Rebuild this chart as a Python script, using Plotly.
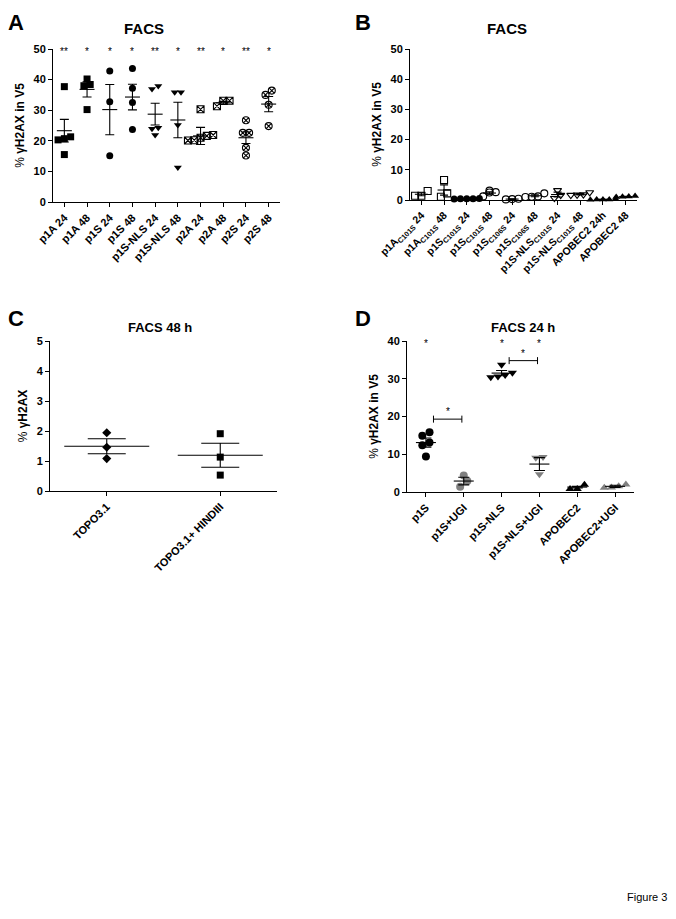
import plotly.graph_objects as go

# the page body has an 8px default margin: the figure is sized so it fits
OFF = 8
W, H = 660, 900
FONT = "Liberation Sans, Arial, sans-serif"
GRAY = "#808080"

# ---------------- Panel A ----------------
A_labels = ["p1A 24", "p1A 48", "p1S 24", "p1S 48", "p1S-NLS 24", "p1S-NLS 48",
            "p2A 24", "p2A 48", "p2S 24", "p2S 48"]
A_points = [
    [37.7, 21.3, 20.7, 20.3, 15.5],
    [40.2, 38.4, 38.0, 30.2],
    [42.8, 32.8, 15.1],
    [43.6, 37.2, 32.5, 23.7],
    [37.9, 36.9, 24.3, 23.9, 21.9],
    [35.9, 35.9, 25.2, 11.3],
    [30.3, 21.9, 21.6, 21.0, 20.2, 20.1],
    [33.1, 33.1, 31.3],
    [26.7, 22.6, 22.6, 17.7, 15.2],
    [36.4, 35.0, 31.8, 24.8],
]
A_mean = [23.3, 36.8, 30.2, 34.3, 28.7, 26.8, 21.6, 32.4, 21.0, 32.0]
A_sem = [3.7, 2.5, 8.2, 4.2, 3.55, 5.8, 2.8, 0.5, 1.9, 2.5]
A_stars = ["**", "*", "*", "*", "**", "*", "**", "*", "**", "*"]
A_symbols = ["square", "square", "circle", "circle", "triangle-down", "triangle-down",
             "square-x-open", "square-x-open", "circle-x-open", "circle-x-open"]

# ---------------- Panel B ----------------
B_labels = ["p1A<sub>C101S</sub> 24", "p1A<sub>C101S</sub> 48", "p1S<sub>C101S</sub> 24",
            "p1S<sub>C101S</sub> 48", "p1S<sub>C106S</sub> 24", "p1S<sub>C106S</sub> 48",
            "p1S-NLS<sub>C101S</sub> 24", "p1S-NLS<sub>C101S</sub> 48", "APOBEC2 24h", "APOBEC2 48"]
B_points = [
    [3.0, 1.4, 1.4],
    [6.6, 2.2, 1.1],
    [0.5, 0.4, 0.4, 0.3, 0.4],
    [3.1, 2.6, 2.5, 1.2],
    [0.4, 0.3, 0.2],
    [2.2, 1.2, 1.1, 1.0],
    [3.2, 1.6, 0.6],
    [2.5, 1.8, 1.7, 1.6],
    [0.3, 0.2, 0.2, 0.1, 0.2],
    [1.3, 1.2, 1.1, 1.0],
]
B_mean = [1.9, 3.3, 0.4, 2.3, 0.3, 1.4, 1.8, 1.9, 0.2, 1.15]
B_sem = [0.5, 1.7, 0.05, 0.4, 0.1, 0.3, 0.8, 0.2, 0.05, 0.1]
B_symbols = ["square-open", "square-open", "circle", "circle-open", "circle-open", "circle-open",
             "triangle-down-open", "triangle-down-open", "triangle-up", "triangle-up"]

# ---------------- Panel C ----------------
C_labels = ["TOPO3.1", "TOPO3.1+ HINDIII"]
C_points = [[1.94, 1.46, 1.08], [1.91, 1.13, 0.53]]
C_mean = [1.49, 1.19]
C_sem = [0.25, 0.40]
C_symbols = ["diamond", "square"]

# ---------------- Panel D ----------------
D_labels = ["p1S", "p1S+UGI", "p1S-NLS", "p1S-NLS+UGI", "APOBEC2", "APOBEC2+UGI"]
D_points = [
    [15.8, 14.9, 13.1, 12.4, 9.4],
    [4.4, 2.9, 1.4],
    [33.7, 31.6, 31.0, 30.6, 30.4],
    [9.3, 9.1, 4.7],
    [1.9, 0.8, 0.8],
    [2.0, 1.5, 1.2, 1.1],
]
D_mean = [13.1, 2.9, 31.5, 7.4, 1.3, 1.5]
D_sem = [1.2, 1.0, 0.7, 1.7, 0.2, 0.3]
D_symbols = ["circle", "circle", "triangle-down", "triangle-down", "triangle-up", "triangle-up"]
D_colors = ["black", GRAY, "black", GRAY, "black", GRAY]
D_stars = ["*", "", "*", "*", "", ""]
D_brackets = [(0, 1, 19.3, "*"), (2, 3, 34.8, "*")]

# panel geometry in screen pixels: (left, right, top, bottom)
BOX = {
    "A": (53, 280, 49, 202),
    "B": (410, 637, 49, 200),
    "C": (50, 277, 341, 491),
    "D": (407, 634, 341, 492),
}


def px2x(p):
    return (p - OFF) / W


def px2y(p):
    return 1 - (p - OFF) / H


def dom_x(l, r):
    return [px2x(l), px2x(r)]


def dom_y(t, b):
    return [px2y(b), px2y(t)]


def swarm(vals, px_per_unit, size, px_per_cat):
    """Prism-like horizontal spreading of points with close values."""
    order = sorted(range(len(vals)), key=lambda i: vals[i])
    rows, cur = [], []
    for i in order:
        if cur and (vals[i] - vals[cur[0]]) * px_per_unit > size * 0.8:
            rows.append(cur)
            cur = []
        cur.append(i)
    if cur:
        rows.append(cur)
    offs = [0.0] * len(vals)
    step = size * 0.9
    for row in rows:
        n = len(row)
        for j, i in enumerate(row):
            offs[i] = (j - (n - 1) / 2) * step / px_per_cat
    return offs


fig = go.Figure()


def add_panel(key, xa, ya, labels, points, means, sems, symbols, colors, ymax,
              msize, mean_w, cap_w):
    l, r, t, b = BOX[key]
    n = len(labels)
    ppu = (b - t) / ymax
    ppc = (r - l) / n
    for i in range(n):
        offs = swarm(points[i], ppu, msize, ppc)
        sym = symbols[i]
        col = colors[i]
        is_open = sym.endswith("open")
        fig.add_trace(go.Scatter(
            x=[i + o for o in offs], y=points[i], mode="markers",
            xaxis=xa, yaxis=ya, cliponaxis=False, showlegend=False,
            marker=dict(symbol=sym, size=msize, color=col,
                        line=dict(width=1.1 if is_open else 0, color=col)),
        ))
    xs = list(range(n))
    fig.add_trace(go.Scatter(
        x=xs, y=means, mode="markers", xaxis=xa, yaxis=ya, cliponaxis=False,
        showlegend=False,
        marker=dict(symbol="line-ew", size=mean_w / 1.4, color="black",
                    line=dict(width=1.1, color="black")),
    ))
    fig.add_trace(go.Scatter(
        x=xs, y=means, mode="markers", xaxis=xa, yaxis=ya, cliponaxis=False,
        showlegend=False, marker=dict(size=1, color="rgba(0,0,0,0)"),
        error_y=dict(type="data", array=sems, visible=True, color="black",
                     thickness=1.1, width=cap_w),
    ))


add_panel("A", "x", "y", A_labels, A_points, A_mean, A_sem, A_symbols,
          ["black"] * 10, 50, 7, 15, 4.5)
add_panel("B", "x2", "y2", B_labels, B_points, B_mean, B_sem, B_symbols,
          ["black"] * 10, 50, 7, 13, 4)
add_panel("C", "x3", "y3", C_labels, C_points, C_mean, C_sem, C_symbols,
          ["black"] * 2, 5, 7, 85, 19)
add_panel("D", "x4", "y4", D_labels, D_points, D_mean, D_sem, D_symbols,
          D_colors, 40, 8, 20, 5.5)

# brackets in D
for (i0, i1, yv, s) in D_brackets:
    fig.add_trace(go.Scatter(
        x=[i0 + 0.2, i1 - 0.05], y=[yv, yv], mode="lines+markers",
        xaxis="x4", yaxis="y4", showlegend=False, cliponaxis=False,
        line=dict(color="black", width=1),
        marker=dict(symbol="line-ns", size=5, color="black",
                    line=dict(width=1, color="black")),
    ))

annotations = []
for i, s in enumerate(A_stars):
    annotations.append(dict(x=i, y=50, xref="x", yref="y", text=s, showarrow=False,
                            font=dict(size=10, family=FONT, color="black"),
                            yanchor="middle", yshift=-2))
for i, s in enumerate(D_stars):
    if s:
        annotations.append(dict(x=i, y=40, xref="x4", yref="y4", text=s, showarrow=False,
                                font=dict(size=10, family=FONT, color="black"),
                                yanchor="middle", yshift=-2))
for (i0, i1, yv, s) in D_brackets:
    annotations.append(dict(x=(i0 + 0.2 + i1 - 0.05) / 2, y=yv, xref="x4", yref="y4",
                            text=s, showarrow=False,
                            font=dict(size=10, family=FONT, color="black"),
                            yanchor="bottom", yshift=0))

# titles and panel letters
for (txt, px, py, sz) in [("FACS", 144, 29, 15), ("FACS", 507, 29, 15),
                          ("FACS 48 h", 160, 327, 13), ("FACS 24 h", 523, 327, 13)]:
    annotations.append(dict(x=px2x(px), y=px2y(py), xref="paper", yref="paper",
                            text="<b>%s</b>" % txt, showarrow=False,
                            font=dict(size=sz, family=FONT, color="black"),
                            xanchor="center", yanchor="middle"))
for (txt, px, py) in [("A", 16, 8), ("B", 363, 8)]:
    annotations.append(dict(x=px2x(px), y=px2y(py), xref="paper", yref="paper",
                            text="<b>%s</b>" % txt, showarrow=False,
                            font=dict(size=22, family=FONT, color="black"),
                            xanchor="center", yanchor="top"))
for (txt, px, py) in [("C", 16, 318), ("D", 363, 318)]:
    annotations.append(dict(x=px2x(px), y=px2y(py), xref="paper", yref="paper",
                            text="<b>%s</b>" % txt, showarrow=False,
                            font=dict(size=22, family=FONT, color="black"),
                            xanchor="center", yanchor="middle"))
annotations.append(dict(x=px2x(647), y=px2y(897), xref="paper", yref="paper",
                        text="Figure 3", showarrow=False,
                        font=dict(size=11, family=FONT, color="black"),
                        xanchor="center", yanchor="middle"))

axis_common = dict(showline=True, linecolor="black", linewidth=1, ticks="outside",
                   ticklen=4, tickcolor="black", tickwidth=1, showgrid=False,
                   zeroline=False, automargin=False,
                   tickfont=dict(size=11, family=FONT, color="black", weight="bold"))


def xaxis_cfg(key, labels, yname, fs=11):
    l, r, t, b = BOX[key]
    n = len(labels)
    cfg = dict(axis_common, domain=dom_x(l, r), range=[-0.5, n - 0.5],
               tickvals=list(range(n)), ticktext=labels, tickangle=-45,
               anchor=yname)
    cfg["tickfont"] = dict(size=fs, family=FONT, color="black", weight="bold")
    return cfg


def yaxis_cfg(key, ymax, dtick, title, xname):
    l, r, t, b = BOX[key]
    return dict(axis_common, domain=dom_y(t, b), range=[0, ymax], dtick=dtick,
                anchor=xname,
                title=dict(text=title, standoff=6,
                           font=dict(size=12, family=FONT, color="black")))


YT = "% <b>γH2AX in V5</b>"
fig.update_layout(
    width=W, height=H, margin=dict(l=0, r=0, t=0, b=0, autoexpand=False),
    paper_bgcolor="white", plot_bgcolor="white",
    font=dict(family=FONT, color="black"),
    showlegend=False,
    xaxis=xaxis_cfg("A", A_labels, "y"),
    yaxis=yaxis_cfg("A", 50, 10, YT, "x"),
    xaxis2=xaxis_cfg("B", B_labels, "y2", 10.5),
    yaxis2=yaxis_cfg("B", 50, 10, YT, "x2"),
    xaxis3=xaxis_cfg("C", C_labels, "y3"),
    yaxis3=yaxis_cfg("C", 5, 1, "% <b>γH2AX</b>", "x3"),
    xaxis4=xaxis_cfg("D", D_labels, "y4"),
    yaxis4=yaxis_cfg("D", 40, 10, YT, "x4"),
    annotations=annotations,
)

fig.write_html("out.html")
